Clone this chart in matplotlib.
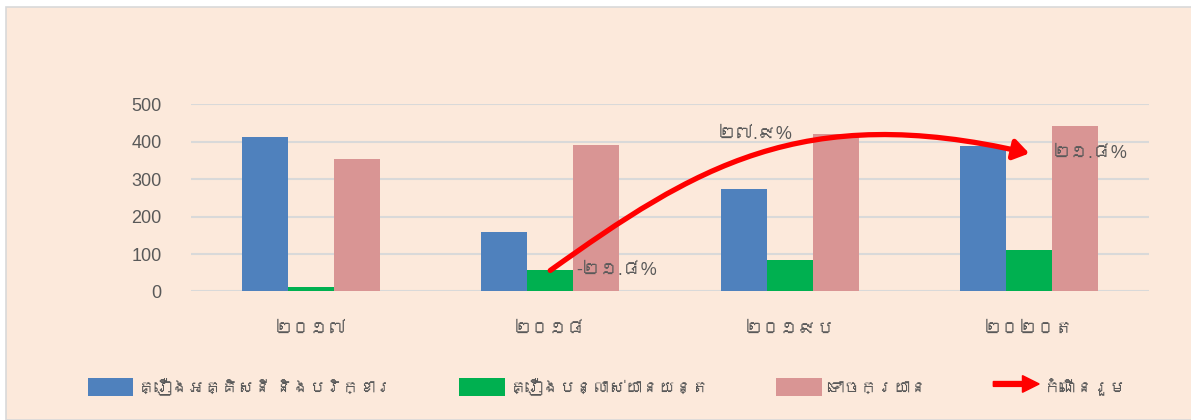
import matplotlib
matplotlib.use("Agg")
import matplotlib.pyplot as plt
from matplotlib import font_manager
from matplotlib.ft2font import FT2Font
from matplotlib.patches import Rectangle, FancyArrowPatch, FancyArrow
from matplotlib.path import Path
from matplotlib.legend_handler import HandlerPatch

# data
years = ["២០១៧", "២០១៨", "២០១៩ប", "២០២០ត"]
electric = [414, 158, 273, 390]
machinery = [12, 56, 84, 112]
vehicles = [353, 392, 420, 441]
series_names = ["គ្រឿងអគ្គិសនី និងបរិក្ខារ", "គ្រឿងបន្លាស់យានយន្ត", "ទោចក្រយាន", "កំណើនរួម"]
growth_labels = ["-២១.៨%", "២៧.៩%", "២១.៨%"]
# growth arrow (bezier): x in category units, y in values
growth_path_x = [1.0, 1.6, 2.05, 3.0]
growth_path_y = [56, 330, 510, 369]
growth_label_x = [1.11, 1.70, 3.10]
growth_label_y = [56, 420, 369]

bg = "#FCE9DB"
blue = "#4F81BD"
green = "#00B050"
pink = "#D99594"
txt = "#595959"

# look for an installed font that has Khmer glyphs
khmer = []
for f in font_manager.fontManager.ttflist:
    try:
        if 0x1780 in FT2Font(f.fname).get_charmap():
            if f.name not in khmer:
                khmer.append(f.name)
    except Exception:
        pass
plt.rcParams['font.family'] = ['Liberation Sans'] + khmer[:1] + ['DejaVu Sans']

W, H = 1191, 420
fig = plt.figure(figsize=(W / 100, H / 100), dpi=100)
fig.patch.set_facecolor("white")
fig.patches.append(Rectangle((6 / W, 0), 1.2, 1 - 7 / H, transform=fig.transFigure,
                             facecolor=bg, edgecolor="#D9D9D9", linewidth=1.2, zorder=-1))

ax = fig.add_axes([191 / W, 1 - 291 / H - 0.001, (1149 - 191) / W, (291 - 104) / H])
ax.set_facecolor("none")

x = list(range(len(years)))
bw = 0.192
ax.bar([i - bw for i in x], electric, bw, color=blue, label=series_names[0], zorder=2)
ax.bar(x, machinery, bw, color=green, label=series_names[1], zorder=2)
ax.bar([i + bw for i in x], vehicles, bw, color=pink, label=series_names[2], zorder=2)

ax.set_xlim(-0.5, 3.5)
ax.set_ylim(0, 500)
ax.set_yticks([0, 100, 200, 300, 400, 500])
ax.yaxis.grid(True, color="#D9D9D9", linewidth=1.5)
ax.set_axisbelow(True)
for s in ax.spines.values():
    s.set_visible(False)
ax.tick_params(axis="both", length=0, colors=txt)
ax.tick_params(axis="y", pad=21, labelsize=13)
ax.tick_params(axis="x", pad=21, labelsize=13)
ax.set_xticks(x)
ax.set_xticklabels(years)

# growth arrow
verts = list(zip(growth_path_x, growth_path_y))
codes = [Path.MOVETO, Path.CURVE4, Path.CURVE4, Path.CURVE4]
arrow = FancyArrowPatch(path=Path(verts, codes), arrowstyle="-|>,head_length=9,head_width=6",
                        color="red", linewidth=3.8, zorder=4, capstyle="round")
ax.add_patch(arrow)
for lx, ly, lab in zip(growth_label_x, growth_label_y, growth_labels):
    ax.text(lx, ly, lab, color=txt, fontsize=13, va="center", ha="left", zorder=5)


def make_arrow(legend, orig_handle, xdescent, ydescent, width, height, fontsize):
    return FancyArrow(0, height / 2, width, 0, width=3.5, head_width=12,
                      head_length=12, length_includes_head=True, color="red")


arrow_handle = FancyArrow(0, 0, 1, 0, color="red")
handles, labels = ax.get_legend_handles_labels()
handles.append(arrow_handle)
labels.append(series_names[3])
fig.legend(handles, labels, loc="center", bbox_to_anchor=(0.51, 1 - 387 / H), ncol=4,
           frameon=False, fontsize=12, labelcolor=txt, handlelength=2.75, handleheight=1.25,
           columnspacing=4.0, handletextpad=0.3,
           handler_map={arrow_handle: HandlerPatch(patch_func=make_arrow)})

fig.savefig("out.png", dpi=100, facecolor=fig.get_facecolor())
